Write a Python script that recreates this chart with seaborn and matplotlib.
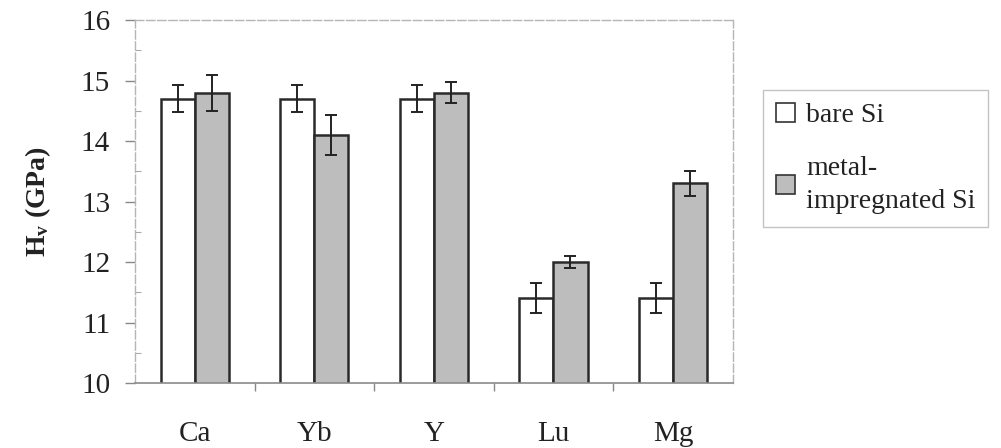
import numpy as np
import pandas as pd
import matplotlib
matplotlib.use("Agg")
import matplotlib.pyplot as plt
import seaborn as sns
from matplotlib.ticker import MultipleLocator, FixedLocator

# Vickers hardness of Si3N4 samples, bare vs. metal-impregnated
metals = ["Ca", "Yb", "Y", "Lu", "Mg"]
bare_si = [14.7, 14.7, 14.7, 11.4, 11.4]
bare_err = [0.22, 0.22, 0.22, 0.25, 0.25]
metal_si = [14.8, 14.1, 14.8, 12.0, 13.3]
metal_err = [0.30, 0.33, 0.17, 0.10, 0.20]
series_names = ["bare Si", "metal-\nimpregnated Si"]
y_ticks = [10, 11, 12, 13, 14, 15, 16]

df = pd.DataFrame({
    "metal": metals * 2,
    "series": [series_names[0]] * len(metals) + [series_names[1]] * len(metals),
    "hv": bare_si + metal_si,
    "err": bare_err + metal_err,
})

sns.set_style("white")
plt.rcParams["font.family"] = ["Liberation Serif", "DejaVu Serif"]
plt.rcParams["mathtext.fontset"] = "custom"
plt.rcParams["mathtext.rm"] = "Liberation Serif:bold"
plt.rcParams["mathtext.it"] = "Liberation Serif:bold"
plt.rcParams["mathtext.bf"] = "Liberation Serif:bold"

fig = plt.figure(figsize=(10.01, 4.48), dpi=100)
ax = fig.add_axes([0.135, 0.145, 0.597, 0.81])

edge = "#2a2a2a"
sns.barplot(data=df, x="metal", y="hv", hue="series", order=metals,
            hue_order=series_names, palette=["#ffffff", "#bdbdbd"],
            width=0.57, errorbar=None, edgecolor=edge, linewidth=1.8,
            ax=ax, legend=True)

# error bars placed on the bar centres produced by seaborn
for container, name in zip(ax.containers, series_names):
    sub = df[df["series"] == name].set_index("metal").loc[metals]
    xs = [p.get_x() + p.get_width() / 2 for p in container.patches]
    ax.errorbar(xs, sub["hv"].values, yerr=sub["err"].values, fmt="none",
                ecolor="#222222", elinewidth=1.4, capsize=4, capthick=1.4,
                zorder=5)

ax.set_ylim(10, 16)
ax.set_xlim(-0.5, len(metals) - 0.5)
ax.set_yticks(y_ticks)
ax.yaxis.set_minor_locator(MultipleLocator(0.5))
ax.xaxis.set_minor_locator(FixedLocator(np.arange(0.5, len(metals) - 1, 1.0)))

ax.tick_params(axis="y", which="major", direction="out", length=7, width=1,
               color="#888888", pad=11, labelsize=21, labelcolor="#222222",
               left=True)
ax.tick_params(axis="y", which="minor", direction="in", length=4, width=0.8,
               color="#aaaaaa", left=True)
ax.tick_params(axis="x", which="major", length=0, pad=27, labelsize=21,
               labelcolor="#222222")
ax.tick_params(axis="x", which="minor", direction="out", length=6, width=1,
               color="#888888", bottom=True)

ax.set_xlabel("")
ax.set_ylabel(r"H$_{v}$ (GPa)", fontsize=20, fontweight="bold",
              color="#222222", labelpad=20)

for side in ["top", "right", "left"]:
    ax.spines[side].set_visible(True)
    ax.spines[side].set_color("#b5b5b5")
    ax.spines[side].set_linewidth(1.0)
    ax.spines[side].set_linestyle((0, (6, 2)))
ax.spines["bottom"].set_color("#8a8a8a")
ax.spines["bottom"].set_linewidth(1.2)

handles, labels = ax.get_legend_handles_labels()
ax.get_legend().remove()
leg = fig.legend(handles, labels, loc="upper left",
                 bbox_to_anchor=(763 / 1001, 1 - 90 / 448),
                 frameon=True, fontsize=20, handlelength=0.7,
                 handleheight=0.7, handletextpad=0.4, labelspacing=1.0,
                 borderpad=0.45, borderaxespad=0, fancybox=False,
                 labelcolor="#222222")
for t in leg.get_texts():
    t.set_linespacing(1.45)
leg.get_frame().set_edgecolor("#b5b5b5")
leg.get_frame().set_linewidth(1.0)
for h in leg.legend_handles:
    h.set_edgecolor("#333333")
    h.set_linewidth(1.2)

fig.savefig("out.png", dpi=100)
